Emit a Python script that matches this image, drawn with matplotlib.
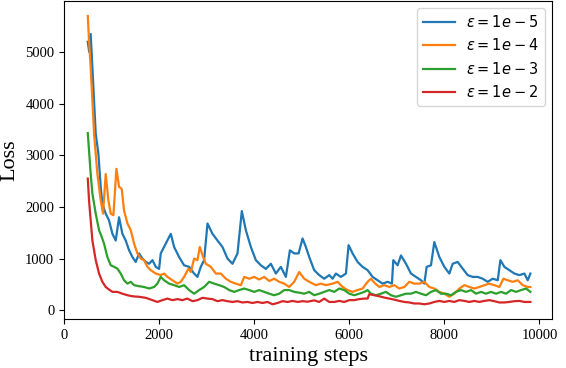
import matplotlib
matplotlib.use("Agg")
import matplotlib.pyplot as plt

#-- values
steps_1e5 = [500, 530, 561, 597, 667, 723, 772, 807, 877, 947, 1018, 1088, 1158, 1228, 1298, 1369,
             1439, 1509, 1579, 1649, 1720, 1790, 1860, 1930, 2000, 2035, 2140, 2246, 2316, 2421, 2526,
             2632, 2737, 2807, 2877, 2947, 3018, 3123, 3228, 3333, 3439, 3544, 3649, 3740, 3825, 3930,
             4035, 4140, 4246, 4351, 4456, 4561, 4667, 4751, 4842, 4934, 5018, 5087, 5158, 5263, 5368,
             5473, 5579, 5649, 5719, 5824, 5930, 5986, 6070, 6175, 6280, 6386, 6491, 6596, 6702, 6807,
             6898, 6926, 7017, 7088, 7193, 7298, 7403, 7509, 7579, 7628, 7719, 7789, 7895, 8000, 8105,
             8175, 8280, 8386, 8491, 8596, 8702, 8807, 8912, 9017, 9123, 9179, 9263, 9368, 9474, 9579,
             9684, 9754, 9810]
loss_1e5 = [5200, 5000, 5350, 4700, 3420, 3030, 2390, 2060, 1870, 1740, 1480, 1350, 1800, 1480, 1350, 1160,
            1030, 935, 1100, 1000, 935, 900, 970, 840, 800, 1100, 1290, 1480, 1225, 1030, 870,
            840, 710, 645, 840, 970, 1680, 1480, 1350, 1225, 1000, 900, 1100, 1920, 1550, 1225,
            970, 870, 800, 900, 710, 840, 645, 1160, 1100, 1100, 1390, 1225, 1030, 775, 680,
            610, 680, 610, 710, 645, 710, 1260, 1100, 935, 840, 775, 645, 580, 515, 550,
            515, 970, 870, 1060, 900, 710, 645, 580, 515, 840, 870, 1320, 1030, 840, 710,
            900, 935, 805, 680, 645, 645, 610, 550, 610, 580, 970, 840, 775, 710, 680,
            710, 580, 710]

steps_1e4 = [500, 526, 561, 597, 632, 702, 772, 821, 877, 933, 983, 1039, 1102, 1158, 1214, 1263,
             1334, 1404, 1474, 1544, 1614, 1684, 1755, 1825, 1930, 2035, 2105, 2175, 2281, 2386, 2456,
             2526, 2618, 2667, 2737, 2807, 2856, 2926, 2983, 3088, 3193, 3298, 3404, 3509, 3614, 3720,
             3790, 3895, 4000, 4105, 4211, 4316, 4421, 4526, 4632, 4737, 4842, 4947, 5052, 5158, 5298,
             5403, 5508, 5649, 5754, 5859, 5965, 6070, 6175, 6280, 6386, 6456, 6547, 6632, 6737, 6842,
             6947, 7052, 7158, 7263, 7368, 7474, 7579, 7684, 7789, 7895, 8000, 8105, 8210, 8316, 8421,
             8526, 8631, 8737, 8842, 8947, 9052, 9158, 9242, 9333, 9438, 9544, 9649, 9754, 9810]
loss_1e4 = [5700, 5220, 4700, 4060, 3420, 2640, 2130, 1870, 2640, 2130, 1870, 1840, 2740, 2390, 2350, 1930,
            1680, 1550, 1290, 1100, 1000, 970, 840, 775, 710, 680, 710, 645, 580, 515, 550,
            645, 805, 740, 1000, 970, 1225, 1030, 900, 840, 710, 710, 610, 550, 515, 485,
            645, 610, 645, 595, 645, 565, 610, 550, 515, 450, 550, 740, 610, 550, 485,
            515, 485, 515, 550, 450, 390, 355, 390, 420, 550, 610, 515, 450, 485, 450,
            485, 420, 450, 550, 515, 515, 550, 450, 420, 355, 320, 260, 320, 420, 485,
            450, 420, 450, 485, 515, 485, 450, 610, 580, 550, 580, 485, 450, 450]

steps_1e3 = [500, 526, 561, 597, 667, 737, 793, 842, 912, 983, 1053, 1123, 1193, 1263, 1334, 1404,
             1474, 1579, 1684, 1790, 1895, 1965, 2035, 2105, 2211, 2316, 2421, 2526, 2632, 2737, 2842,
             2947, 3053, 3158, 3263, 3369, 3474, 3579, 3684, 3790, 3895, 4000, 4105, 4211, 4316, 4421,
             4526, 4632, 4737, 4842, 4947, 5052, 5158, 5263, 5368, 5473, 5579, 5684, 5789, 5894, 6000,
             6105, 6210, 6316, 6386, 6456, 6561, 6667, 6772, 6877, 6982, 7088, 7193, 7298, 7403, 7509,
             7614, 7719, 7824, 7930, 8035, 8140, 8245, 8351, 8456, 8561, 8666, 8772, 8877, 8982, 9088,
             9193, 9298, 9403, 9509, 9614, 9719, 9810]
loss_1e3 = [3430, 3095, 2640, 2260, 1870, 1550, 1420, 1290, 1030, 870, 840, 805, 710, 580, 515, 550,
            485, 465, 450, 420, 450, 515, 645, 580, 515, 485, 450, 485, 390, 320, 390,
            450, 550, 515, 485, 450, 390, 355, 390, 420, 390, 355, 390, 355, 320, 290,
            320, 390, 390, 355, 340, 320, 355, 290, 320, 355, 390, 355, 420, 390, 320,
            290, 320, 355, 390, 320, 290, 320, 355, 290, 260, 290, 320, 320, 355, 320,
            290, 355, 390, 320, 320, 290, 355, 390, 355, 390, 320, 355, 320, 355, 320,
            355, 320, 390, 355, 390, 420, 355]

steps_1e2 = [500, 526, 561, 597, 667, 737, 807, 877, 947, 1018, 1123, 1228, 1334, 1439, 1579, 1720,
             1860, 1965, 2070, 2175, 2281, 2386, 2491, 2596, 2702, 2807, 2912, 3018, 3123, 3228, 3333,
             3439, 3544, 3649, 3754, 3860, 3965, 4070, 4175, 4281, 4386, 4491, 4596, 4702, 4807, 4912,
             5018, 5123, 5263, 5368, 5473, 5579, 5684, 5789, 5894, 6000, 6105, 6210, 6316, 6386, 6421,
             6526, 6632, 6737, 6842, 6947, 7052, 7158, 7263, 7368, 7474, 7579, 7684, 7789, 7895, 8000,
             8105, 8210, 8316, 8421, 8526, 8631, 8737, 8842, 8947, 9052, 9158, 9263, 9368, 9474, 9579,
             9684, 9810]
loss_1e2 = [2550, 2130, 1740, 1350, 970, 710, 550, 450, 400, 355, 355, 320, 290, 270, 260, 240,
            195, 160, 195, 225, 195, 215, 195, 225, 175, 195, 240, 225, 215, 175, 195,
            175, 160, 175, 150, 160, 140, 160, 140, 160, 115, 140, 175, 160, 180, 160,
            175, 165, 190, 160, 225, 160, 160, 180, 160, 195, 195, 215, 225, 225, 310,
            290, 270, 245, 225, 205, 180, 160, 150, 130, 130, 115, 130, 160, 180, 160,
            180, 160, 195, 180, 160, 180, 160, 180, 195, 175, 150, 150, 160, 175, 180,
            160, 160]

labels = [r'$\epsilon = 1e-5$', r'$\epsilon = 1e-4$', r'$\epsilon = 1e-3$', r'$\epsilon = 1e-2$']
series = [(steps_1e5, loss_1e5), (steps_1e4, loss_1e4), (steps_1e3, loss_1e3), (steps_1e2, loss_1e2)]
colors = ['#1f77b4', '#ff7f0e', '#2ca02c', '#d62728']

plt.rc('font', family='serif', serif=['Liberation Serif', 'DejaVu Serif'])

fig = plt.figure(figsize=(5.66, 3.68), dpi=100)
ax = fig.add_axes([0.1131, 0.1332, 0.8622, 0.8641])

for (x, y), lab, c in zip(series, labels, colors):
    ax.plot(x, y, color=c, lw=1.6, label=lab)

ax.set_xlim(0, 10265)
ax.set_ylim(-170, 5990)
ax.set_xticks([0, 2000, 4000, 6000, 8000, 10000])
ax.set_yticks([0, 1000, 2000, 3000, 4000, 5000])
ax.tick_params(labelsize=10.5)

ax.set_xlabel('training steps', fontsize=16)
ax.set_ylabel('Loss', fontsize=16)

#-- legend uses the sans math font, like the original
leg = ax.legend(loc='upper right', handlelength=2.2,
                prop={'family': 'DejaVu Sans', 'size': 10.5})

plt.savefig('out.png', dpi=100)
